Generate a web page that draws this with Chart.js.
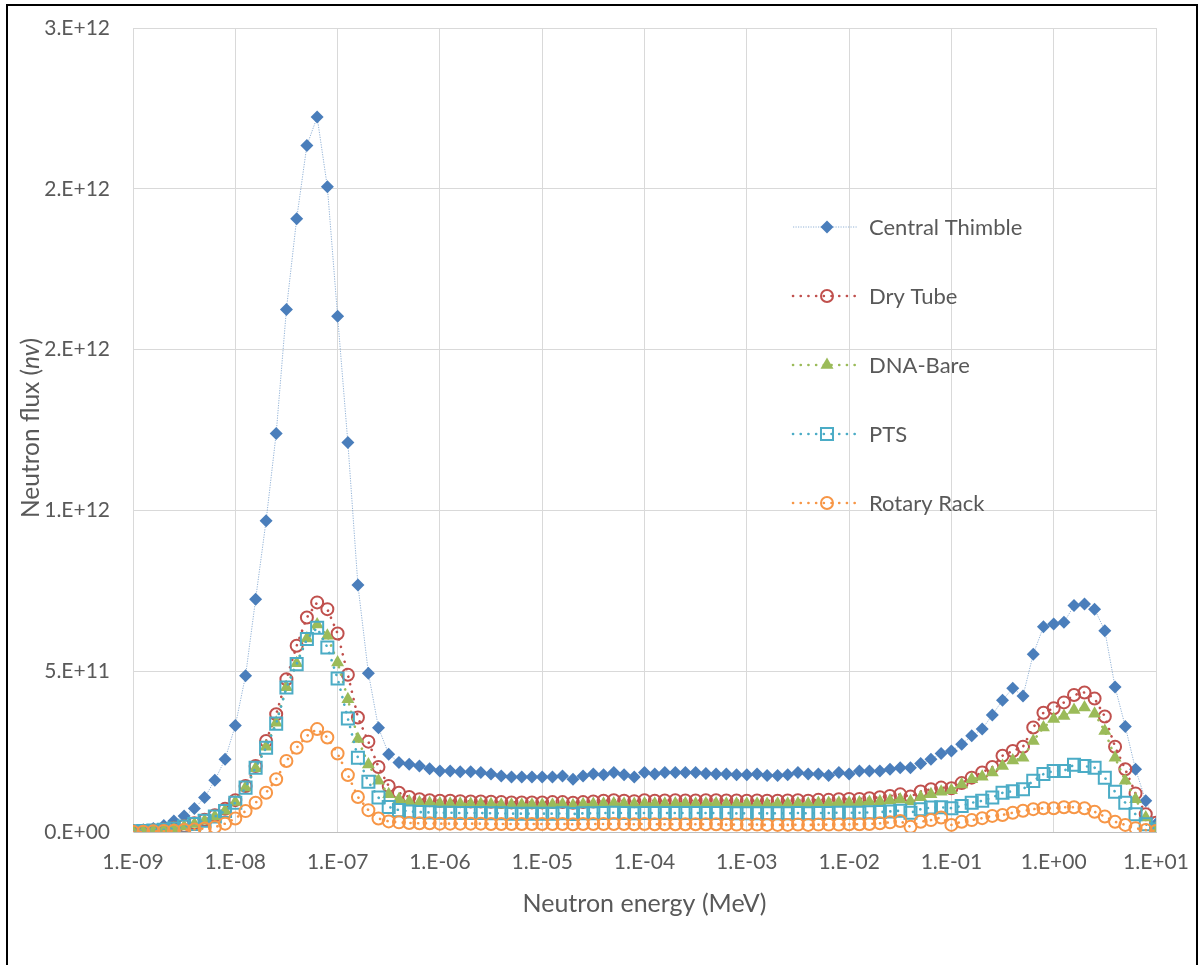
<!DOCTYPE html>
<html><head><meta charset="utf-8">
<script src="https://cdn.jsdelivr.net/npm/chart.js@4.4.0/dist/chart.umd.min.js"></script>
<style>
html,body{margin:0;padding:0;background:#fff;overflow:hidden;}
#wrap{position:relative;width:1202px;height:965px;}
#frame{position:absolute;left:6px;top:4px;width:1192px;height:1000px;border:2px solid #000;box-sizing:border-box;pointer-events:none;}
canvas{position:absolute;left:0;top:0;}
</style></head><body>
<div id="wrap"><canvas id="c" width="1202" height="965"></canvas><div id="frame"></div></div>
<script>
// Neutron energy grid (MeV)
const energyMeV = [
 1.00e-9,1.26e-9,1.58e-9,2.00e-9,2.51e-9,3.16e-9,3.98e-9,5.01e-9,6.31e-9,7.94e-9,
 1.00e-8,1.26e-8,1.58e-8,2.00e-8,2.51e-8,3.16e-8,3.98e-8,5.01e-8,6.31e-8,7.94e-8,
 1.00e-7,1.26e-7,1.58e-7,2.00e-7,2.51e-7,3.16e-7,3.98e-7,5.01e-7,6.31e-7,7.94e-7,
 1.00e-6,1.26e-6,1.58e-6,2.00e-6,2.51e-6,3.16e-6,3.98e-6,5.01e-6,6.31e-6,7.94e-6,
 1.00e-5,1.26e-5,1.58e-5,2.00e-5,2.51e-5,3.16e-5,3.98e-5,5.01e-5,6.31e-5,7.94e-5,
 1.00e-4,1.26e-4,1.58e-4,2.00e-4,2.51e-4,3.16e-4,3.98e-4,5.01e-4,6.31e-4,7.94e-4,
 1.00e-3,1.26e-3,1.58e-3,2.00e-3,2.51e-3,3.16e-3,3.98e-3,5.01e-3,6.31e-3,7.94e-3,
 1.00e-2,1.26e-2,1.58e-2,2.00e-2,2.51e-2,3.16e-2,3.98e-2,5.01e-2,6.31e-2,7.94e-2,
 1.00e-1,1.26e-1,1.58e-1,2.00e-1,2.51e-1,3.16e-1,3.98e-1,5.01e-1,6.31e-1,7.94e-1,
 1.00e0,1.26e0,1.58e0,2.00e0,2.51e0,3.16e0,3.98e0,5.01e0,6.31e0,7.94e0,
 1.00e1
];
// Flux values in units of 1e11 (nv)
const centralThimble = [
 0.05,0.07,0.11,0.20,0.34,0.50,0.73,1.07,1.61,2.26,
 3.31,4.86,7.24,9.68,12.39,16.25,19.07,21.35,22.23,20.06,
 16.04,12.11,7.68,4.94,3.24,2.42,2.16,2.11,2.05,1.97,
 1.90,1.90,1.87,1.87,1.85,1.80,1.74,1.71,1.71,1.71,
 1.71,1.71,1.74,1.64,1.74,1.80,1.78,1.85,1.78,1.71,
 1.85,1.80,1.85,1.85,1.85,1.85,1.82,1.80,1.80,1.78,
 1.78,1.80,1.76,1.76,1.78,1.85,1.80,1.80,1.76,1.85,
 1.80,1.90,1.90,1.90,1.95,2.00,2.00,2.13,2.26,2.44,
 2.52,2.73,2.99,3.20,3.64,4.10,4.47,4.23,5.53,6.38,
 6.47,6.52,7.04,7.09,6.93,6.26,4.51,3.28,1.95,0.97,
 0.25
];
const dryTube = [
 0.02,0.03,0.05,0.08,0.13,0.19,0.27,0.38,0.52,0.72,
 0.99,1.43,2.05,2.83,3.66,4.75,5.79,6.67,7.14,6.93,
 6.17,4.89,3.56,2.81,2.02,1.43,1.22,1.09,1.02,0.99,
 0.97,0.97,0.96,0.95,0.95,0.94,0.93,0.92,0.92,0.92,
 0.92,0.93,0.93,0.91,0.93,0.95,0.97,0.99,0.97,0.96,
 0.99,0.97,0.98,0.99,0.98,0.98,0.99,0.99,0.98,0.98,
 0.97,0.98,0.97,0.97,0.98,0.99,0.97,1.00,1.00,1.02,
 1.03,1.03,1.05,1.08,1.12,1.17,1.10,1.26,1.33,1.38,
 1.36,1.52,1.69,1.85,2.02,2.37,2.52,2.65,3.25,3.71,
 3.85,4.03,4.26,4.34,4.15,3.59,2.65,1.95,1.20,0.55,
 0.29
];
const dnaBare = [
 0.02,0.03,0.05,0.07,0.11,0.17,0.25,0.35,0.48,0.66,
 0.93,1.38,1.98,2.65,3.40,4.50,5.25,6.02,6.45,6.10,
 5.27,4.13,2.89,2.10,1.59,1.17,1.02,0.95,0.92,0.90,
 0.89,0.88,0.88,0.87,0.87,0.86,0.85,0.85,0.85,0.85,
 0.85,0.85,0.86,0.83,0.86,0.87,0.88,0.89,0.88,0.87,
 0.89,0.88,0.88,0.89,0.89,0.88,0.89,0.89,0.88,0.88,
 0.88,0.88,0.87,0.88,0.88,0.89,0.88,0.90,0.90,0.91,
 0.91,0.92,0.93,0.95,0.98,1.01,0.96,1.08,1.17,1.25,
 1.30,1.48,1.64,1.72,1.85,2.05,2.22,2.31,2.83,3.25,
 3.51,3.61,3.79,3.87,3.68,3.14,2.31,1.59,1.02,0.45,
 0.12
];
const pts = [
 0.02,0.03,0.05,0.07,0.11,0.17,0.25,0.35,0.48,0.65,
 0.91,1.38,2.00,2.62,3.37,4.49,5.22,6.00,6.35,5.74,
 4.77,3.53,2.31,1.56,1.07,0.78,0.68,0.64,0.62,0.61,
 0.60,0.60,0.59,0.59,0.59,0.58,0.58,0.57,0.57,0.57,
 0.57,0.57,0.58,0.56,0.58,0.58,0.59,0.60,0.59,0.58,
 0.59,0.59,0.59,0.59,0.59,0.59,0.59,0.59,0.59,0.58,
 0.58,0.58,0.58,0.58,0.58,0.59,0.58,0.59,0.59,0.60,
 0.60,0.60,0.61,0.62,0.64,0.66,0.60,0.71,0.76,0.77,
 0.74,0.81,0.91,0.97,1.07,1.22,1.27,1.33,1.59,1.80,
 1.90,1.90,2.09,2.05,2.00,1.69,1.25,0.91,0.55,0.24,
 0.08
];
const rotaryRack = [
 0.01,0.01,0.02,0.03,0.04,0.06,0.08,0.11,0.15,0.26,
 0.42,0.65,0.91,1.22,1.64,2.21,2.62,2.99,3.20,2.94,
 2.44,1.77,1.09,0.68,0.42,0.33,0.30,0.28,0.27,0.27,
 0.26,0.26,0.26,0.26,0.26,0.25,0.25,0.25,0.25,0.25,
 0.25,0.25,0.25,0.24,0.25,0.25,0.25,0.25,0.25,0.24,
 0.25,0.24,0.24,0.24,0.24,0.24,0.24,0.24,0.23,0.23,
 0.23,0.23,0.22,0.22,0.22,0.23,0.22,0.23,0.23,0.23,
 0.24,0.24,0.25,0.27,0.30,0.34,0.16,0.32,0.37,0.45,
 0.22,0.32,0.37,0.43,0.50,0.53,0.60,0.66,0.71,0.74,
 0.74,0.77,0.77,0.74,0.63,0.48,0.32,0.22,0.12,0.06,
 0.03
];
const seriesLabels = ['Central Thimble','Dry Tube','DNA-Bare','PTS','Rotary Rack'];
const xTickValues = [1e-9,1e-8,1e-7,1e-6,1e-5,1e-4,1e-3,1e-2,1e-1,1e0,1e1];
const xTickLabels = ['1.E-09','1.E-08','1.E-07','1.E-06','1.E-05','1.E-04','1.E-03','1.E-02','1.E-01','1.E+00','1.E+01'];
const yTickValues = [0,5e11,1e12,1.5e12,2e12,2.5e12];
const yTickLabels = ['0.E+00','5.E+11','1.E+12','2.E+12','2.E+12','3.E+12'];
const UNIT = 1e11;

const FONT = 'Lato';
const TXT = '#595959';

const styles = [
  {color:'#4A7EBB', line:'rgba(74,126,187,0.6)', point:'rectRot', r:6.5, fill:'#4A7EBB', bw:0, lw:1, dash:[1.2,1.3], cap:'butt'},
  {color:'#C0504D', line:'#C0504D', point:'circle', r:6, fill:'rgba(0,0,0,0)', bw:2, lw:2.6, dash:[0.1,7.6], cap:'round'},
  {color:'#9BBB59', line:'#9BBB59', point:'triangle', r:7.5, fill:'#9BBB59', bw:0, lw:2.6, dash:[0.1,7.6], cap:'round'},
  {color:'#4BACC6', line:'#4BACC6', point:'rect', r:8.5, fill:'rgba(0,0,0,0)', bw:2, lw:2.6, dash:[0.1,7.6], cap:'round'},
  {color:'#F79646', line:'#F79646', point:'circle', r:6, fill:'rgba(0,0,0,0)', bw:2, lw:2.6, dash:[0.1,7.6], cap:'round'}
];
const seriesValues = [centralThimble, dryTube, dnaBare, pts, rotaryRack];

const datasets = seriesValues.map((vals, k) => {
  const s = styles[k];
  return {
    label: seriesLabels[k],
    data: energyMeV.map((e, i) => ({x: e, y: vals[i] * UNIT})),
    borderColor: s.line,
    borderWidth: s.lw,
    borderDash: s.dash,
    borderCapStyle: s.cap,
    backgroundColor: s.fill,
    pointStyle: s.point,
    pointRadius: s.r,
    pointBorderWidth: s.bw,
    pointBorderColor: s.color,
    pointBackgroundColor: s.fill,
    pointHoverRadius: s.r,
    tension: 0,
    fill: false,
    order: 5 - k
  };
});

function drawMarker(ctx, s, x, y) {
  ctx.save();
  ctx.setLineDash([]);
  ctx.fillStyle = s.fill;
  ctx.strokeStyle = s.color;
  ctx.lineWidth = s.bw;
  if (Chart.helpers && Chart.helpers.drawPoint) {
    Chart.helpers.drawPoint(ctx, {pointStyle: s.point, radius: s.r, rotation: 0, borderWidth: s.bw}, x, y);
  }
  ctx.restore();
}

const legendPlugin = {
  id: 'insideLegend',
  afterDatasetsDraw(chart) {
    const ctx = chart.ctx;
    const x0 = 793, x1 = 857, xm = 827, xt = 869, y0 = 227, dy = 69;
    ctx.save();
    chart.data.datasets.forEach((d, k) => {
      const s = styles[k];
      const y = y0 + k * dy;
      ctx.save();
      ctx.strokeStyle = s.line;
      ctx.lineWidth = s.lw;
      ctx.lineCap = s.cap;
      ctx.setLineDash(s.dash);
      ctx.beginPath();
      ctx.moveTo(x0, y);
      ctx.lineTo(x1, y);
      ctx.stroke();
      ctx.restore();
      drawMarker(ctx, s, xm, y);
      ctx.fillStyle = TXT;
      ctx.font = '22px ' + FONT;
      ctx.textAlign = 'left';
      ctx.textBaseline = 'middle';
      ctx.fillText(d.label, xt, y + 1);
    });
    ctx.restore();
  }
};

const yTitlePlugin = {
  id: 'yTitle',
  afterDraw(chart) {
    const ctx = chart.ctx;
    const ca = chart.chartArea;
    const parts = [
      {t: 'Neutron flux (', f: '24.5px ' + FONT},
      {t: 'nv', f: 'italic 24.5px ' + FONT},
      {t: ')', f: '24.5px ' + FONT}
    ];
    ctx.save();
    let total = 0;
    parts.forEach(p => { ctx.font = p.f; p.w = ctx.measureText(p.t).width; total += p.w; });
    ctx.translate(31, (ca.top + ca.bottom) / 2 - 2);
    ctx.rotate(-Math.PI / 2);
    ctx.fillStyle = TXT;
    ctx.textBaseline = 'middle';
    ctx.textAlign = 'left';
    let x = -total / 2;
    parts.forEach(p => { ctx.font = p.f; ctx.fillText(p.t, x, 0); x += p.w; });
    ctx.restore();
  }
};

new Chart(document.getElementById('c'), {
  type: 'line',
  data: {datasets},
  plugins: [legendPlugin, yTitlePlugin],
  options: {
    responsive: false,
    animation: false,
    devicePixelRatio: 1,
    layout: {padding: {top: 28, right: 46, bottom: 0, left: 0}},
    plugins: {legend: {display: false}, tooltip: {enabled: false}},
    scales: {
      x: {
        type: 'logarithmic', min: 1e-9, max: 10,
        afterBuildTicks: s => { s.ticks = xTickValues.map(v => ({value: v})); },
        afterFit: s => { s.height = 133; s.paddingLeft = 0; s.paddingRight = 0; },
        grid: {color: '#D9D9D9', lineWidth: 1, drawTicks: false},
        border: {color: '#BFBFBF', width: 1},
        ticks: {autoSkip: false, maxRotation: 0, minRotation: 0, padding: 18, color: TXT,
                font: {family: FONT, size: 21}, callback: (v, i) => xTickLabels[i]},
        title: {display: true, text: 'Neutron energy (MeV)', color: TXT,
                font: {family: FONT, size: 25}, padding: {top: 0, bottom: 46}}
      },
      y: {
        type: 'linear', min: 0, max: 2.5e12,
        afterBuildTicks: s => { s.ticks = yTickValues.map(v => ({value: v})); },
        afterFit: s => { s.width = 133; s.paddingTop = 0; s.paddingBottom = 0; },
        grid: {color: '#D9D9D9', lineWidth: 1, drawTicks: false},
        border: {color: '#D9D9D9', width: 1},
        ticks: {padding: 23, color: TXT, font: {family: FONT, size: 21},
                callback: (v, i) => yTickLabels[i]}
      }
    }
  }
});
</script>
</body></html>
